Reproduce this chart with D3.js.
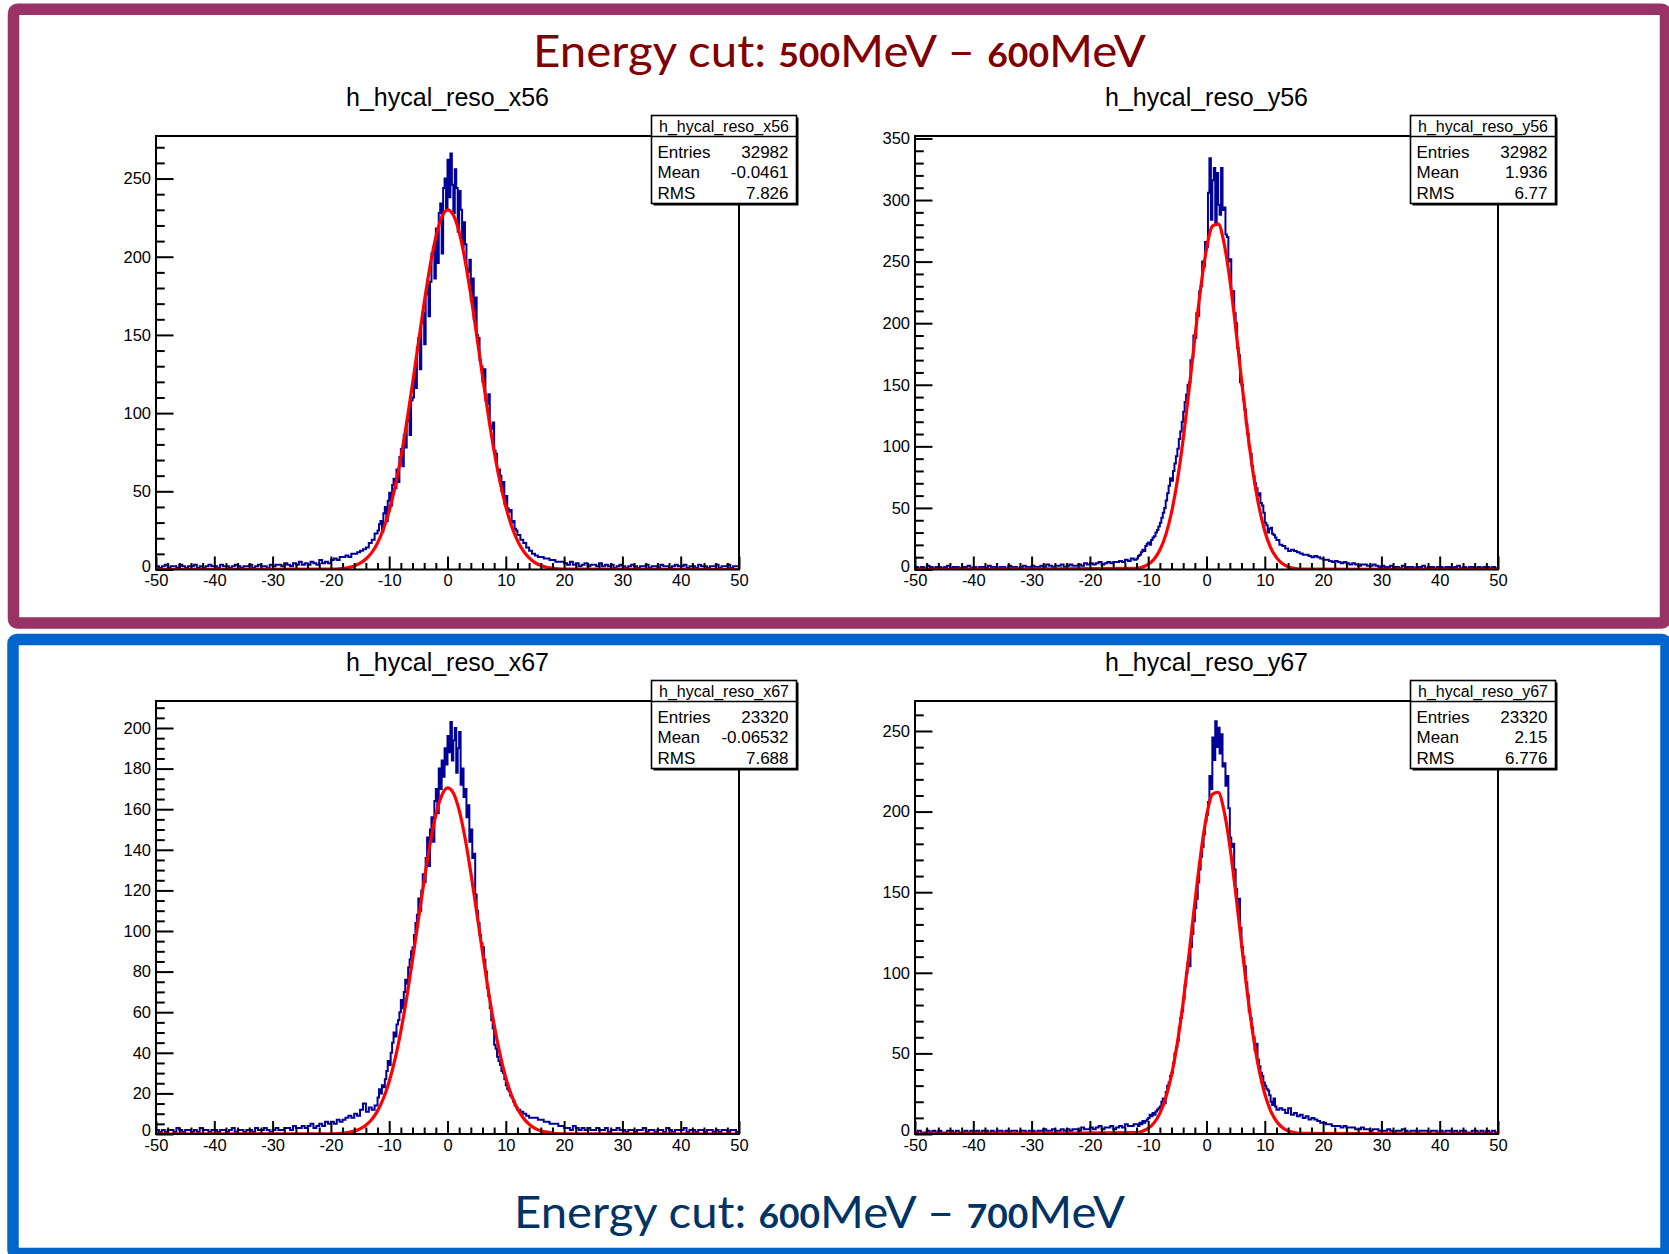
<!DOCTYPE html>
<html><head><meta charset="utf-8">
<script src="https://cdn.jsdelivr.net/npm/d3@7"></script>
<style>body{margin:0;background:#fff;} svg{display:block;}</style>
</head><body><svg id="c" width="1669" height="1254"></svg>
<script>
// ---------------- DATA ----------------
const titles = ["h_hycal_reso_x56", "h_hycal_reso_y56", "h_hycal_reso_x67", "h_hycal_reso_y67"];
const entries = ["32982", "32982", "23320", "23320"];
const means = ["-0.0461", "1.936", "-0.06532", "2.15"];
const rmsVals = ["7.826", "6.77", "7.688", "6.776"];
const xTicksMajor = [-50, -40, -30, -20, -10, 0, 10, 20, 30, 40, 50];
const yMaxes = [277.2, 352, 213.3, 268.6];
const yMajorStep = [50, 50, 20, 50];
const yMinorStep = [10, 10, 5, 10];
// bin layout: tails -50..-12 and 12..50 in 0.5 bins, core -12..12 in 0.25 bins
const leftLow = -50, coreLow = -12, rightLow = 12, tailWidth = 0.5, coreWidth = 0.25;

// ---- h_hycal_reso_x56
const x56Left = [
 2,1,2,3,1,2,2,1,3,2,1,2,2,3,1,2,1,2,3,2,
 2,1,3,2,2,1,2,3,2,1,2,2,3,1,2,3,2,2,1,3,
 2,3,3,2,4,3,2,4,3,5,3,4,3,5,4,3,6,4,5,4,
 6,7,6,8,8,9,8,10,10,11,12,13,14,17,19,23];
const x56Core = [
 25,29,31,24,36,40,31,44,49,41,54,58,
 52,64,56,72,77,66,86,78,95,100,86,108,
 110,128,116,142,148,128,158,164,144,176,182,162,
 184,202,206,186,218,196,228,234,202,244,250,230,
 262,238,266,246,228,256,244,216,242,230,206,222,
 208,192,190,198,172,186,160,174,150,148,134,130,
 120,128,108,106,112,92,90,94,76,74,64,64,
 60,50,56,42,47,39,37,38,30,31,26,25];
const x56Right = [
 22,19,17,14,12,10,9,8,8,7,7,6,6,5,5,5,
 4,3,5,3,4,2,3,4,2,3,3,2,4,2,3,2,3,1,2,3,
 2,1,2,3,2,1,2,2,3,1,2,2,1,3,2,2,1,2,3,2,
 2,3,1,2,2,1,3,2,2,1,2,2,3,1,2,2,3,1,2,2];

// ---- h_hycal_reso_y56
const y56Left = [
 2,1,2,1,3,2,1,2,2,1,2,3,1,2,2,1,2,2,3,1,
 2,1,2,2,1,3,2,2,1,2,2,1,3,2,2,1,2,3,2,2,
 3,2,2,3,2,4,3,2,3,3,4,2,3,4,3,3,4,3,5,4,
 5,4,5,6,4,5,6,5,6,6,7,6,8,7,9,8];
const y56Core = [
 9,11,12,14,16,15,19,21,22,20,24,26,
 27,30,32,35,38,42,46,50,56,62,68,74,
 72,80,86,92,98,106,112,120,128,136,142,150,
 152,170,172,190,188,208,206,226,230,250,246,266,
 262,306,334,284,316,326,280,322,296,288,326,292,
 294,272,270,250,252,226,226,208,200,180,174,152,
 150,138,130,118,110,100,94,84,76,70,66,60,
 62,54,52,46,38,36,30,33,34,29,28,26];
const y56Right = [
 24,20,19,17,15,16,15,14,13,12,12,11,10,11,10,9,
 8,8,7,6,7,6,5,6,5,4,5,4,3,4,4,3,3,4,3,2,
 3,2,2,3,2,2,1,3,2,2,2,1,2,2,3,1,2,2,1,2,
 2,1,2,2,1,2,3,1,2,1,2,2,1,2,1,2,2,1,2,1];

// ---- h_hycal_reso_x67
const x67Left = [
 2,1,2,1,2,2,1,3,2,1,2,2,1,2,1,3,2,2,1,2,
 2,1,2,2,1,2,3,1,2,2,1,2,2,1,3,2,2,3,2,1,
 2,3,2,2,3,3,2,4,3,3,4,3,4,5,3,4,5,4,6,5,
 6,5,7,6,7,8,9,8,10,9,12,15,11,13,12,14];
const x67Core = [
 18,22,20,24,23,27,31,36,34,40,45,50,
 48,54,56,60,66,62,70,76,74,82,86,90,
 92,98,104,108,116,110,120,128,124,136,146,132,
 150,156,144,164,170,158,180,170,184,176,190,182,
 196,188,203,184,194,200,178,190,198,172,180,166,
 170,156,162,144,150,136,138,118,110,104,98,94,
 92,86,80,72,68,62,56,52,44,42,38,36,
 34,31,30,27,24,22,21,19,18,16,14,13];
const x67Right = [
 12,11,10,9,8,8,8,7,7,6,6,5,5,5,4,4,
 3,3,2,4,3,2,3,2,3,2,2,3,2,2,3,1,2,2,3,2,
 2,1,2,2,1,2,2,3,1,2,2,1,2,2,1,3,2,1,2,2,
 2,3,1,2,2,1,2,2,1,2,2,1,2,1,2,2,1,2,2,1];

// ---- h_hycal_reso_y67
const y67Left = [
 1,2,1,1,2,1,2,1,2,1,1,2,2,1,2,1,1,2,1,2,
 1,2,1,2,2,1,2,1,2,2,1,2,1,2,2,1,2,2,1,2,
 2,1,2,2,3,2,2,3,2,2,3,2,3,2,3,3,2,4,3,3,
 4,3,4,5,3,4,4,5,3,4,5,4,6,5,5,6];
const y67Core = [
 6,5,7,6,8,7,8,9,10,12,11,13,
 12,14,15,16,17,20,22,19,26,30,32,36,
 38,44,50,54,58,66,72,76,84,92,100,106,
 104,116,124,132,140,146,156,164,172,178,186,194,
 198,206,222,214,246,232,256,240,252,236,248,228,
 230,216,222,202,184,178,180,164,152,140,146,128,
 116,110,104,94,86,76,72,66,60,52,56,46,
 42,38,36,32,30,28,27,24,20,18,22,17];
const y67Right = [
 15,16,15,13,16,12,13,11,12,10,11,9,10,9,8,7,
 7,6,6,5,5,5,4,5,4,4,4,3,3,4,3,3,2,3,3,2,
 2,2,3,2,1,2,2,3,2,1,2,2,1,2,2,2,1,2,2,1,
 2,1,2,2,1,2,1,2,2,1,1,2,2,1,2,1,2,1,2,1];

// fit curves (red)
const fitXA = [-50,-20,-19,-18,-17,-16,-15,-14,-13,-12,-11,-10,-9,-8,-7,-6,-5,-4,-3,-2,-1,0,1,2,3,4,5,6,7,8,9,10,11,12,13,14,15,16,17,18,19,20,50];
const fitXB = [-50,-12,-11,-10,-9,-8,-7,-6,-5,-4,-3,-2,-1,0,1,2,3,4,5,6,7,8,9,10,11,12,13,14,15,16,50];
const fitX56 = [0,0.2,0.3,0.7,1.3,2.3,4.0,6.7,10.8,17.0,25.7,37.4,52.7,71.5,93.8,118.6,144.7,170.6,193.8,212.6,225.1,230.0,226.7,215.7,198.0,175.5,150.0,123.8,98.6,75.7,56.1,40.2,27.7,18.5,11.9,7.4,4.4,2.6,1.4,0.8,0.4,0.2,0];
const fitY56 = [0,0.9,2.0,4.2,8.4,15.8,27.9,46.3,72.2,105.7,145.4,188.1,228.3,260.3,278.8,280.6,265.2,235.5,196.5,154.0,113.4,78.4,51.0,31.1,17.8,9.6,4.9,2.3,1.0,0.4,0];
const fitX67 = [0,0.1,0.2,0.4,0.8,1.4,2.5,4.3,7.1,11.4,17.5,25.9,36.9,50.7,67.1,85.7,105.4,124.9,142.7,157.2,166.7,170.5,168.0,159.5,145.9,128.7,109.4,89.6,70.7,53.8,39.4,27.8,18.9,12.4,7.9,4.8,2.8,1.6,0.9,0.5,0.2,0.1,0];
const fitY67 = [0,0.8,1.7,3.5,6.9,12.8,22.3,36.6,56.4,81.8,111.6,143.5,173.3,197.0,210.7,212.0,200.6,178.7,149.7,118.1,87.6,61.1,40.1,24.8,14.4,7.9,4.0,2.0,0.9,0.4,0];

const hists = [
  [x56Left, x56Core, x56Right],
  [y56Left, y56Core, y56Right],
  [x67Left, x67Core, x67Right],
  [y67Left, y67Core, y67Right]
];
const fitXs = [fitXA, fitXB, fitXA, fitXB];
const fits = [fitX56, fitY56, fitX67, fitY67];

// ---------------- DRAW ----------------
const svg = d3.select("#c");
const rootFont = "'Liberation Sans', Arial, Helvetica, sans-serif";

// coloured frames
svg.append("rect").attr("x",13.5).attr("y",9.2).attr("width",1652).attr("height",613.8)
  .attr("rx",4).attr("fill","none").attr("stroke","#993366").attr("stroke-width",11.5);
svg.append("rect").attr("x",13).attr("y",639.5).attr("width",1653).attr("height",614)
  .attr("rx",4).attr("fill","none").attr("stroke","#0066cc").attr("stroke-width",11.5);

// big titles
function bigTitle(x, y, len, color, a, b) {
  const t = svg.append("text").attr("x",x).attr("y",y).attr("fill",color)
    .attr("font-family","Lato, 'Noto Sans', sans-serif").attr("font-size",44)
    .attr("textLength",len).attr("lengthAdjust","spacingAndGlyphs");
  t.append("tspan").text("Energy cut: ");
  t.append("tspan").attr("font-weight","bold").attr("font-size",33).text(a);
  t.append("tspan").text("MeV \u2013 ");
  t.append("tspan").attr("font-weight","bold").attr("font-size",33).text(b);
  t.append("tspan").text("MeV");
}
bigTitle(533, 67, 613, "#800000", "500", "600");
bigTitle(514, 1228, 611, "#003366", "600", "700");

const layout = [
  {x0:156, x1:739, y0:136, y1:569.5},
  {x0:915, x1:1498, y0:136, y1:569.5},
  {x0:156, x1:739, y0:701, y1:1134},
  {x0:915, x1:1498, y0:701, y1:1134}
];

layout.forEach((L, k) => {
  const x = d3.scaleLinear().domain([-50, 50]).range([L.x0, L.x1]);
  const y = d3.scaleLinear().domain([0, yMaxes[k]]).range([L.y1, L.y0]);
  const g = svg.append("g");
  const w = L.x1 - L.x0, h = L.y1 - L.y0;

  const cid = "clip" + k;
  svg.append("clipPath").attr("id", cid).append("rect")
    .attr("x", L.x0).attr("y", L.y0).attr("width", w).attr("height", h - 0.5);

  // histogram title
  g.append("text").attr("x", (L.x0 + L.x1) / 2).attr("y", L.y0 - 30)
    .attr("text-anchor","middle").attr("font-family", rootFont).attr("font-size", 25)
    .attr("fill","#000").text(titles[k]);

  // histogram (step line) from the three bin segments
  const [lv, cv, rv] = hists[k];
  const pts = [];
  lv.forEach((v, i) => pts.push([leftLow + i * tailWidth, v]));
  cv.forEach((v, i) => pts.push([coreLow + i * coreWidth, v]));
  rv.forEach((v, i) => pts.push([rightLow + i * tailWidth, v]));
  pts.push([50, rv[rv.length - 1]]);
  const stepLine = d3.line().x(d => x(d[0])).y(d => y(d[1])).curve(d3.curveStepAfter);
  g.append("path").attr("d", stepLine(pts)).attr("fill","none")
    .attr("stroke","#000099").attr("stroke-width",2).attr("clip-path",`url(#${cid})`);

  // fit
  const fx = fitXs[k], fv = fits[k];
  const fitLine = d3.line().x(d => x(d[0])).y(d => y(d[1])).curve(d3.curveMonotoneX);
  g.append("path").attr("d", fitLine(fx.map((v, i) => [v, fv[i]]))).attr("fill","none")
    .attr("stroke","#ff0000").attr("stroke-width",3.2).attr("clip-path",`url(#${cid})`);

  // frame
  g.append("rect").attr("x", L.x0).attr("y", L.y0).attr("width", w).attr("height", h)
    .attr("fill","none").attr("stroke","#000").attr("stroke-width",2);

  // ticks
  const yMaj = d3.range(0, yMaxes[k] + 0.001, yMajorStep[k]);
  const yMin = d3.range(0, yMaxes[k] + 0.001, yMinorStep[k]).filter(v => Math.abs(v / yMajorStep[k] - Math.round(v / yMajorStep[k])) > 1e-6);
  const yMajLen = 0.03 * w, xMajLen = 0.03 * h;
  const ayMin = g.append("g").attr("transform", `translate(${L.x0},0)`)
    .call(d3.axisLeft(y).tickValues(yMin).tickSize(-yMajLen / 2).tickFormat(""));
  const ayMaj = g.append("g").attr("transform", `translate(${L.x0},0)`)
    .call(d3.axisLeft(y).tickValues(yMaj).tickSize(-yMajLen).tickPadding(5).tickFormat(d => String(d)));
  const xMin = d3.range(-50, 50.001, 2).filter(v => v % 10 !== 0);
  const axMin = g.append("g").attr("transform", `translate(0,${L.y1})`)
    .call(d3.axisBottom(x).tickValues(xMin).tickSize(-xMajLen / 2).tickFormat(""));
  const axMaj = g.append("g").attr("transform", `translate(0,${L.y1})`)
    .call(d3.axisBottom(x).tickValues(xTicksMajor).tickSize(-xMajLen).tickPadding(5).tickFormat(d => String(d)));
  [ayMin, ayMaj, axMin, axMaj].forEach(a => {
    a.select(".domain").remove();
    a.selectAll("line").attr("stroke","#000").attr("stroke-width",2);
    a.selectAll("text").attr("font-family", rootFont).attr("font-size",16.5).attr("fill","#000");
  });
  // the "0" of the y axis sits just above the "-50" of the x axis
  ayMaj.selectAll(".tick").filter(d => d === 0).select("text").attr("dy","0.1em");

  // stats box
  const bx = L.x0 + 495.5, by = L.y0 - 20.5, bw = 145, bh = 88;
  g.append("rect").attr("x", bx + 2).attr("y", by + 2).attr("width", bw).attr("height", bh).attr("fill","#000");
  g.append("rect").attr("x", bx).attr("y", by).attr("width", bw).attr("height", bh)
    .attr("fill","#fff").attr("stroke","#000").attr("stroke-width",1.6);
  g.append("line").attr("x1", bx).attr("x2", bx + bw).attr("y1", by + 21).attr("y2", by + 21)
    .attr("stroke","#000").attr("stroke-width",1.6);
  g.append("text").attr("x", bx + bw / 2).attr("y", by + 16).attr("text-anchor","middle")
    .attr("font-family", rootFont).attr("font-size",16).text(titles[k]);
  const rows = [["Entries", entries[k]], ["Mean", means[k]], ["RMS", rmsVals[k]]];
  rows.forEach((r, j) => {
    const yy = by + 42 + j * 20.6;
    g.append("text").attr("x", bx + 6).attr("y", yy).attr("font-family", rootFont)
      .attr("font-size",17).text(r[0]);
    g.append("text").attr("x", bx + bw - 8).attr("y", yy).attr("text-anchor","end")
      .attr("font-family", rootFont).attr("font-size",17).text(r[1]);
  });
});
</script></body></html>
